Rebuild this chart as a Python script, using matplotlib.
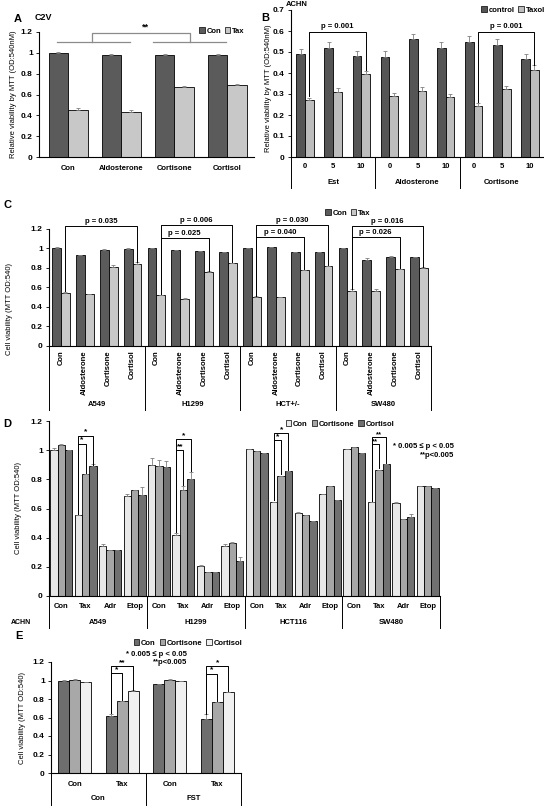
import matplotlib
matplotlib.use("Agg")
import matplotlib.pyplot as plt
import matplotlib.transforms as mtrans
from matplotlib.patches import Patch
import numpy as np

plt.rcParams['font.family'] = ['Liberation Sans', 'DejaVu Sans']
plt.rcParams['font.weight'] = 'bold'

W, H = 544, 808

# ---- panel A: C2V ----
a_cats = ["Con", "Aldosterone", "Cortisone", "Cortisol"]
a_con = [1.0, 0.98, 0.98, 0.98]
a_tax = [0.45, 0.435, 0.67, 0.69]
a_con_err = [0.008, 0.01, 0.01, 0.012]
a_tax_err = [0.02, 0.015, 0.012, 0.01]

# ---- panel B: ACHN ----
b_doses = ["0", "5", "10"] * 3
b_groups = ["Est", "Aldosterone", "Cortisone"]
b_control = [0.49, 0.52, 0.482, 0.478, 0.56, 0.52, 0.548, 0.535, 0.467]
b_taxol = [0.27, 0.31, 0.393, 0.292, 0.316, 0.287, 0.243, 0.322, 0.416]
b_control_err = [0.025, 0.027, 0.025, 0.025, 0.027, 0.027, 0.028, 0.027, 0.025]
b_taxol_err = [0.012, 0.017, 0.017, 0.015, 0.015, 0.015, 0.013, 0.014, 0.022]

# ---- panel C ----
c_cats = ["Con", "Aldosterone", "Cortisone", "Cortisol"] * 4
c_groups = ["A549", "H1299", "HCT+/-", "SW480"]
c_con = [1.0, 0.935, 0.985, 0.99, 1.0, 0.98, 0.975, 0.965,
         1.005, 1.02, 0.96, 0.96, 1.0, 0.88, 0.915, 0.915]
c_tax = [0.545, 0.535, 0.81, 0.845, 0.52, 0.48, 0.76, 0.852,
         0.498, 0.505, 0.778, 0.82, 0.568, 0.568, 0.785, 0.8]
c_con_err = [0.012, 0.0, 0.012, 0.012, 0.0, 0.0, 0.0, 0.0,
             0.0, 0.0, 0.0, 0.0, 0.0, 0.02, 0.008, 0.0]
c_tax_err = [0.008, 0.0, 0.02, 0.015, 0.008, 0.015, 0.008, 0.0,
             0.012, 0.0, 0.0, 0.0, 0.012, 0.012, 0.008, 0.008]

# ---- panel D ----
d_cats = ["Con", "Tax", "Adr", "Etop"] * 4
d_groups = ["A549", "H1299", "HCT116", "SW480"]
d_con = [0.998, 0.557, 0.344, 0.688, 0.90, 0.42, 0.209, 0.34,
         1.005, 0.647, 0.569, 0.697, 1.005, 0.642, 0.638, 0.752]
d_cortisone = [1.035, 0.837, 0.317, 0.725, 0.89, 0.727, 0.163, 0.362,
               0.995, 0.826, 0.557, 0.752, 1.02, 0.867, 0.528, 0.752]
d_cortisol = [1.003, 0.894, 0.317, 0.695, 0.885, 0.805, 0.163, 0.243,
              0.98, 0.858, 0.511, 0.656, 0.98, 0.906, 0.541, 0.741]
d_con_err = [0.015, 0.0, 0.01, 0.01, 0.045, 0.015, 0.005, 0.015,
             0.0, 0.0, 0.005, 0.0, 0.0, 0.0, 0.005, 0.0]
d_cortisone_err = [0.008, 0.0, 0.0, 0.0, 0.045, 0.025, 0.005, 0.005,
                   0.0, 0.0, 0.0, 0.005, 0.0, 0.0, 0.0, 0.0]
d_cortisol_err = [0.0, 0.008, 0.0, 0.055, 0.04, 0.045, 0.0, 0.025,
                  0.0, 0.0, 0.0, 0.0, 0.0, 0.0, 0.02, 0.0]

# ---- panel E ----
e_cats = ["Con", "Tax", "Con", "Tax"]
e_groups = ["Con", "FST"]
e_con = [1.0, 0.62, 0.966, 0.584]
e_cortisone = [1.008, 0.778, 1.008, 0.764]
e_cortisol = [0.985, 0.886, 0.99, 0.88]
e_con_err = [0.008, 0.02, 0.0, 0.05]
e_cortisone_err = [0.005, 0.005, 0.01, 0.008]
e_cortisol_err = [0.0, 0.008, 0.005, 0.0]

DARK = "#5b5b5b"
LIGHT = "#c8c8c8"
FS_TICK = 6
FS_TXT = 5.5

fig = plt.figure(figsize=(W / 100, H / 100), dpi=100)


def px_axes(x0, y0, x1, y1):
    return fig.add_axes([x0 / W, 1 - y1 / H, (x1 - x0) / W, (y1 - y0) / H])


def style(ax, ymax, step, n):
    for s in ["top", "right"]:
        ax.spines[s].set_visible(False)
    for s in ["left", "bottom"]:
        ax.spines[s].set_linewidth(0.8)
    ax.set_ylim(0, ymax)
    ax.set_xlim(-0.5, n - 0.5)
    ticks = np.round(np.arange(0, ymax + step / 2, step), 2)
    ax.set_yticks(ticks)
    ax.set_yticklabels(["%g" % t for t in ticks])
    ax.tick_params(axis="y", length=2.5, width=0.6, pad=2, labelsize=FS_TICK)
    ax.tick_params(axis="x", length=0)
    ax.set_xticks([])


def bars(ax, x, vals, errs, color, width):
    ax.bar(x, vals, width, color=color, edgecolor="black", linewidth=0.6, zorder=2)
    ax.errorbar(x, vals, yerr=[np.zeros(len(vals)), errs], fmt="none",
                ecolor="#7f7f7f", elinewidth=0.6, capsize=1.5, capthick=0.6, zorder=3)


def fig_trans(ax):
    return mtrans.blended_transform_factory(ax.transData, fig.transFigure)


def cat_axis(ax, cats, groups, per, y_cat, y_grp, y_end, y_axis, rot=0):
    tr = fig_trans(ax)
    n = len(cats)
    for i, c in enumerate(cats):
        if rot:
            ax.text(i, 1 - y_cat / H, c, rotation=90, ha="center", va="top",
                    fontsize=FS_TXT, transform=tr)
        else:
            ax.text(i, 1 - y_cat / H, c, ha="center", va="center",
                    fontsize=FS_TXT, transform=tr)
    for g, name in enumerate(groups):
        ax.text(g * per + (per - 1) / 2, 1 - y_grp / H, name, ha="center",
                va="center", fontsize=FS_TXT, transform=tr)
    for b in np.arange(-0.5, n, per):
        ax.plot([b, b], [1 - y_axis / H, 1 - y_end / H], color="black",
                lw=0.7, transform=tr, clip_on=False)


def bracket(ax, x1, y1, x2, y2, top, txt, color="black", off=0.01, fs=FS_TXT):
    ax.plot([x1, x1, x2, x2], [y1, top, top, y2], color=color, lw=0.7,
            clip_on=False, zorder=4)
    ax.text((x1 + x2) / 2, top + off, txt, ha="center", va="bottom",
            fontsize=fs, clip_on=False)


def legend(ax, labels, colors, cx, cy):
    handles = [Patch(facecolor=c, edgecolor="black", linewidth=0.5) for c in colors]
    ax.legend(handles, labels, loc="center", bbox_to_anchor=(cx / W, 1 - cy / H),
              bbox_transform=fig.transFigure, ncol=len(labels), frameon=False,
              fontsize=FS_TXT, handlelength=0.7, handleheight=0.7,
              handletextpad=0.25, columnspacing=0.5, borderpad=0)


# ================= A =================
axA = px_axes(39, 32, 254, 157)
xa = np.arange(len(a_cats))
bw = 0.37
bars(axA, xa - bw / 2, a_con, a_con_err, DARK, bw)
bars(axA, xa + bw / 2, a_tax, a_tax_err, LIGHT, bw)
style(axA, 1.2, 0.2, 4)
axA.set_xlim(-0.55, 3.5)
axA.set_xticks(xa)
axA.set_xticklabels(a_cats, fontsize=FS_TXT)
axA.tick_params(axis="x", pad=6)
axA.set_ylabel("Relative viability by MTT (OD:540nM)", fontsize=FS_TXT, labelpad=1)
axA.yaxis.set_label_coords(-0.10, 0.5)
gcol = "#8c8c8c"
axA.plot([-0.22, 1.16], [1.1, 1.1], color=gcol, lw=0.9, clip_on=False)
axA.plot([1.6, 2.98], [1.1, 1.1], color=gcol, lw=0.9, clip_on=False)
axA.plot([0.45, 0.45, 2.29, 2.29], [1.1, 1.195, 1.195, 1.1], color=gcol, lw=0.9,
         clip_on=False)
axA.text(1.45, 1.2, "**", ha="center", va="bottom", fontsize=FS_TXT + 1)
legend(axA, ["Con", "Tax"], [DARK, LIGHT], 222, 31)
fig.text(18 / W, 1 - 19 / H, "A", fontsize=8, ha="center", va="center")
fig.text(43 / W, 1 - 17 / H, "C2V", fontsize=6.5, ha="center", va="center")

# ================= B =================
axB = px_axes(291, 10, 544, 157)
xb = np.arange(len(b_doses))
bw = 0.31
bars(axB, xb - bw / 2, b_control, b_control_err, "#555555", bw)
bars(axB, xb + bw / 2, b_taxol, b_taxol_err, "#bdbdbd", bw)
style(axB, 0.7, 0.1, 9)
axB.set_ylabel("Relative viability by MTT (OD:540nM)", fontsize=FS_TXT)
axB.yaxis.set_label_coords(-0.075, 0.47)
cat_axis(axB, b_doses, b_groups, 3, 167, 183, 188, 157)
bracket(axB, bw / 2, 0.29, 2 + bw / 2, 0.415, 0.597, "p = 0.001", off=0.008)
bracket(axB, 6 + bw / 2, 0.262, 8 + bw / 2, 0.44, 0.597, "p = 0.001", off=0.008)
legend(axB, ["control", "Taxol"], ["#555555", "#bdbdbd"], 513, 10)
fig.text(265 / W, 1 - 18 / H, "B", fontsize=8, ha="center", va="center")
fig.text(297 / W, 1 - 5 / H, "ACHN", fontsize=FS_TXT, ha="center", va="center")

# ================= C =================
axC = px_axes(49, 229, 431, 346)
xc = np.arange(len(c_cats))
bw = 0.37
bars(axC, xc - bw / 2, c_con, c_con_err, DARK, bw)
bars(axC, xc + bw / 2, c_tax, c_tax_err, LIGHT, bw)
style(axC, 1.2, 0.2, 16)
axC.set_ylabel("Cell viability (MTT OD:540)", fontsize=FS_TXT)
axC.yaxis.set_label_coords(-0.093, 0.32)
cat_axis(axC, c_cats, c_groups, 4, 350, 404, 410, 346, rot=90)
o = bw / 2
bracket(axC, 0 + o, 0.56, 3 + o, 0.865, 1.234, "p = 0.035")
bracket(axC, 4 + o, 0.53, 7 + o, 0.86, 1.24, "p = 0.006")
bracket(axC, 4 + o, 0.53, 6 + o, 0.77, 1.11, "p = 0.025")
bracket(axC, 8 + o, 0.51, 11 + o, 0.83, 1.24, "p = 0.030")
bracket(axC, 8 + o, 0.51, 10 + o, 0.79, 1.115, "p = 0.040")
bracket(axC, 12 + o, 0.58, 15 + o, 0.81, 1.231, "p = 0.016")
bracket(axC, 12 + o, 0.58, 14 + o, 0.795, 1.115, "p = 0.026")
legend(axC, ["Con", "Tax"], [DARK, LIGHT], 348, 213)
fig.text(7 / W, 1 - 205 / H, "C", fontsize=8, ha="center", va="center")

# ================= D =================
axD = px_axes(49, 421, 440, 596)
xd = np.arange(len(d_cats))
bw = 0.3
c1, c2, c3 = "#e8e8e8", "#a6a6a6", "#707070"
bars(axD, xd - bw, d_con, d_con_err, c1, bw)
bars(axD, xd, d_cortisone, d_cortisone_err, c2, bw)
bars(axD, xd + bw, d_cortisol, d_cortisol_err, c3, bw)
style(axD, 1.2, 0.2, 16)
axD.set_ylabel("Cell viability (MTT OD:540)", fontsize=FS_TXT)
axD.yaxis.set_label_coords(-0.068, 0.5)
cat_axis(axD, d_cats, d_groups, 4, 607, 622, 628, 596)
fs_star = FS_TXT + 0.5
bracket(axD, 1 - bw, 0.565, 1, 0.845, 1.045, "*", off=0.0, fs=fs_star)
bracket(axD, 1 - bw, 0.565, 1 + bw, 0.9, 1.10, "*", off=0.0, fs=fs_star)
bracket(axD, 5 - bw, 0.44, 5, 0.76, 1.0, "**", off=0.0, fs=fs_star)
bracket(axD, 5 - bw, 0.44, 5 + bw, 0.86, 1.078, "*", off=0.0, fs=fs_star)
bracket(axD, 9 - bw, 0.655, 9, 0.835, 1.069, "*", off=0.0, fs=fs_star)
bracket(axD, 9 - bw, 0.655, 9 + bw, 0.865, 1.119, "*", off=0.0, fs=fs_star)
bracket(axD, 13 - bw, 0.65, 13, 0.875, 1.04, "**", off=-0.008, fs=FS_TXT)
bracket(axD, 13 - bw, 0.65, 13 + bw, 0.915, 1.088, "**", off=-0.008, fs=FS_TXT)
legend(axD, ["Con", "Cortisone", "Cortisol"], [c1, c2, c3], 340, 424)
fig.text(454 / W, 1 - 446 / H, "* 0.005 \u2264 p < 0.05", fontsize=FS_TXT,
         ha="right", va="center")
fig.text(454 / W, 1 - 456 / H, "**p<0.005", fontsize=FS_TXT,
         ha="right", va="center")
fig.text(21 / W, 1 - 622 / H, "ACHN", fontsize=FS_TXT - 0.5, ha="center", va="center")
fig.text(7 / W, 1 - 424 / H, "D", fontsize=8, ha="center", va="center")

# ================= E =================
axE = px_axes(51, 662, 241, 773)
xe = np.arange(len(e_cats))
bw = 0.23
e1, e2, e3 = "#6e6e6e", "#a8a8a8", "#f0f0f0"
bars(axE, xe - bw, e_con, e_con_err, e1, bw)
bars(axE, xe, e_cortisone, e_cortisone_err, e2, bw)
bars(axE, xe + bw, e_cortisol, e_cortisol_err, e3, bw)
style(axE, 1.2, 0.2, 4)
axE.set_ylabel("Cell viability (MTT OD:540)", fontsize=FS_TXT)
axE.yaxis.set_label_coords(-0.13, 0.5)
cat_axis(axE, e_cats, e_groups, 2, 784, 799, 805, 773)
bracket(axE, 1 - bw, 0.645, 1, 0.79, 1.08, "*", off=0.0, fs=fs_star)
bracket(axE, 1 - bw, 0.645, 1 + bw, 0.9, 1.153, "**", off=0.0, fs=fs_star)
bracket(axE, 3 - bw, 0.64, 3, 0.775, 1.074, "*", off=0.0, fs=fs_star)
bracket(axE, 3 - bw, 0.64, 3 + bw, 0.89, 1.153, "*", off=0.0, fs=fs_star)
legend(axE, ["Con", "Cortisone", "Cortisol"], [e1, e2, e3], 188, 643)
fig.text(187 / W, 1 - 654 / H, "* 0.005 \u2264 p < 0.05", fontsize=FS_TXT,
         ha="right", va="center")
fig.text(187 / W, 1 - 663 / H, "**p<0.005", fontsize=FS_TXT,
         ha="right", va="center")
fig.text(19 / W, 1 - 636 / H, "E", fontsize=8, ha="center", va="center")

fig.savefig("out.png", dpi=100)
